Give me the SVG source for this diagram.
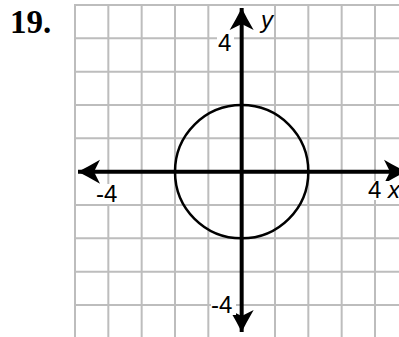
<svg xmlns="http://www.w3.org/2000/svg" width="399" height="337" viewBox="0 0 399 337">
<style>
.grid line{stroke:#bdbdbd;stroke-width:2}
.axis{stroke:#000;stroke-width:4;fill:none}
.lbl{font-family:"Liberation Sans",Arial,sans-serif;font-size:24px;fill:#000}
.bg{fill:#fff}
</style>
<defs>
<marker id="ah" viewBox="-24 -13 26 26" refX="0" refY="0" markerWidth="26" markerHeight="26" markerUnits="userSpaceOnUse" orient="auto">
<path d="M0,0 Q-10,5 -22,12 L-16,0 L-22,-12 Q-10,-5 0,0 Z" fill="#000"/>
</marker>
</defs>
<rect width="399" height="337" fill="#fff"/>
<text x="10" y="33" style="font-family:'Liberation Serif','Times New Roman',serif;font-weight:bold;font-size:33px">19.</text>
<g class="grid" id="grid">
<line x1="75" y1="5" x2="75" y2="340"/>
<line x1="108.33" y1="5" x2="108.33" y2="340"/>
<line x1="141.67" y1="5" x2="141.67" y2="340"/>
<line x1="175" y1="5" x2="175" y2="340"/>
<line x1="208.33" y1="5" x2="208.33" y2="340"/>
<line x1="275" y1="5" x2="275" y2="340"/>
<line x1="308.33" y1="5" x2="308.33" y2="340"/>
<line x1="341.67" y1="5" x2="341.67" y2="340"/>
<line x1="375" y1="5" x2="375" y2="340"/>
<line x1="74" y1="5" x2="410" y2="5"/>
<line x1="74" y1="38.33" x2="410" y2="38.33"/>
<line x1="74" y1="71.67" x2="410" y2="71.67"/>
<line x1="74" y1="105" x2="410" y2="105"/>
<line x1="74" y1="138.33" x2="410" y2="138.33"/>
<line x1="74" y1="205" x2="410" y2="205"/>
<line x1="74" y1="238.33" x2="410" y2="238.33"/>
<line x1="74" y1="271.67" x2="410" y2="271.67"/>
<line x1="74" y1="305" x2="410" y2="305"/>
</g>
<g id="circle">
<circle cx="241.67" cy="171.67" r="66.67" fill="none" stroke="#000" stroke-width="2.5"/>
</g>
<g id="axes">
<line class="axis" x1="241.67" y1="172" x2="241.67" y2="8" marker-end="url(#ah)"/>
<line class="axis" x1="241.67" y1="172" x2="241.67" y2="332" marker-end="url(#ah)"/>
<line class="axis" x1="242" y1="171.67" x2="78" y2="171.67" marker-end="url(#ah)"/>
<line class="axis" x1="242" y1="171.67" x2="406" y2="171.67" marker-end="url(#ah)"/>
</g>
<g id="labels">
<rect class="bg" x="217" y="33" width="17" height="19"/>
<text class="lbl" x="218" y="51">4</text>
<text class="lbl" x="261" y="28" font-style="italic">y</text>
<rect class="bg" x="96" y="184" width="25" height="20"/>
<text class="lbl" x="96" y="202">-4</text>
<rect class="bg" x="367" y="181" width="32" height="19"/>
<text class="lbl" x="368" y="198">4 <tspan font-style="italic">x</tspan></text>
<rect class="bg" x="211" y="296" width="25" height="19"/>
<text class="lbl" x="211" y="313">-4</text>
</g>
</svg>
